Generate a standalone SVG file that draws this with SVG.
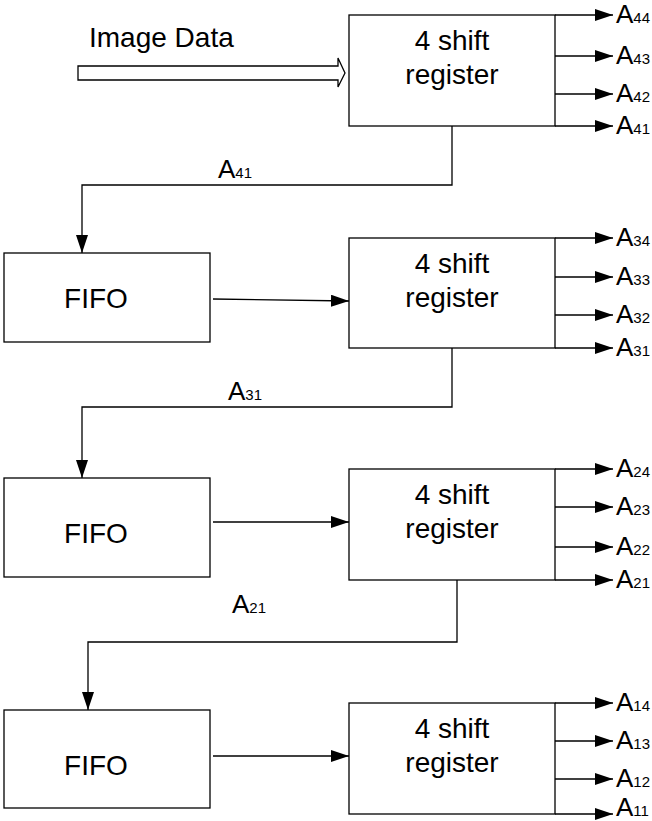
<svg xmlns="http://www.w3.org/2000/svg" width="652" height="821" viewBox="0 0 652 821">
  <style>
    .box { fill: #fff; stroke: #000; stroke-width: 1.3; }
    .wire { fill: none; stroke: #000; stroke-width: 1.3; }
    .lbl { font-family: "Liberation Sans", Arial, sans-serif; fill: #000; }
    .big { font-size: 28px; }
    .out { font-size: 26px; }
    .sub { font-size: 15px; }
  </style>
  <defs>
    <marker id="head" viewBox="0 0 18 12" refX="18" refY="6" markerWidth="18" markerHeight="12" markerUnits="userSpaceOnUse" orient="auto">
      <path d="M0,0 L18,6 L0,12 Z" fill="#000"/>
    </marker>
  </defs>
  <rect width="652" height="821" fill="#fff"/>

  <!-- input -->
  <g id="image-data">
    <text class="lbl big" x="89" y="47">Image Data</text>
    <path class="box" d="M78,66 H338 V58 L345,73 L338,87 V80 H78 Z"/>
  </g>

  <!-- shift registers -->
  <g id="reg4">
    <rect class="box" x="349" y="15" width="206" height="111"/>
    <text class="lbl big" x="452" y="50" text-anchor="middle">4 shift</text>
    <text class="lbl big" x="452" y="84" text-anchor="middle">register</text>
  </g>
  <g id="reg3">
    <rect class="box" x="349" y="238" width="206" height="110"/>
    <text class="lbl big" x="452" y="273" text-anchor="middle">4 shift</text>
    <text class="lbl big" x="452" y="307" text-anchor="middle">register</text>
  </g>
  <g id="reg2">
    <rect class="box" x="349" y="469" width="206" height="111"/>
    <text class="lbl big" x="452" y="504" text-anchor="middle">4 shift</text>
    <text class="lbl big" x="452" y="538" text-anchor="middle">register</text>
  </g>
  <g id="reg1">
    <rect class="box" x="349" y="703" width="206" height="111"/>
    <text class="lbl big" x="452" y="738" text-anchor="middle">4 shift</text>
    <text class="lbl big" x="452" y="772" text-anchor="middle">register</text>
  </g>

  <!-- FIFOs -->
  <g id="fifo3">
    <rect class="box" x="4" y="253" width="206" height="89"/>
    <text class="lbl big" x="96" y="308" text-anchor="middle">FIFO</text>
  </g>
  <g id="fifo2">
    <rect class="box" x="4" y="478" width="206" height="99"/>
    <text class="lbl big" x="96" y="543" text-anchor="middle">FIFO</text>
  </g>
  <g id="fifo1">
    <rect class="box" x="4" y="710" width="206" height="98"/>
    <text class="lbl big" x="96" y="775" text-anchor="middle">FIFO</text>
  </g>

  <!-- connectors -->
  <g id="connectors">
    <!-- register outputs -->
    <line class="wire" x1="555" y1="15" x2="613" y2="15" marker-end="url(#head)"/>
    <line class="wire" x1="555" y1="56" x2="613" y2="56" marker-end="url(#head)"/>
    <line class="wire" x1="555" y1="94" x2="613" y2="94" marker-end="url(#head)"/>
    <line class="wire" x1="555" y1="126" x2="613" y2="126" marker-end="url(#head)"/>

    <line class="wire" x1="555" y1="238" x2="613" y2="238" marker-end="url(#head)"/>
    <line class="wire" x1="555" y1="277" x2="613" y2="277" marker-end="url(#head)"/>
    <line class="wire" x1="555" y1="315" x2="613" y2="315" marker-end="url(#head)"/>
    <line class="wire" x1="555" y1="348" x2="613" y2="348" marker-end="url(#head)"/>

    <line class="wire" x1="555" y1="469" x2="613" y2="469" marker-end="url(#head)"/>
    <line class="wire" x1="555" y1="507" x2="613" y2="507" marker-end="url(#head)"/>
    <line class="wire" x1="555" y1="547" x2="613" y2="547" marker-end="url(#head)"/>
    <line class="wire" x1="555" y1="580" x2="613" y2="580" marker-end="url(#head)"/>

    <line class="wire" x1="555" y1="703" x2="613" y2="703" marker-end="url(#head)"/>
    <line class="wire" x1="555" y1="741" x2="613" y2="741" marker-end="url(#head)"/>
    <line class="wire" x1="555" y1="779" x2="613" y2="779" marker-end="url(#head)"/>
    <line class="wire" x1="555" y1="814" x2="613" y2="814" marker-end="url(#head)"/>

    <!-- feedback to FIFOs -->
    <path class="wire" d="M452,126 V185 H82 V253" marker-end="url(#head)"/>
    <path class="wire" d="M452,348 V407 H82 V478" marker-end="url(#head)"/>
    <path class="wire" d="M457,580 V642 H88 V710" marker-end="url(#head)"/>

    <!-- FIFO to register -->
    <path class="wire" d="M213,299 L349,301" marker-end="url(#head)"/>
    <path class="wire" d="M213,522 L349,522" marker-end="url(#head)"/>
    <path class="wire" d="M213,756 L349,756" marker-end="url(#head)"/>
  </g>

  <!-- signal labels -->
  <g id="labels">
    <text class="lbl out" x="616" y="23">A<tspan class="sub">44</tspan></text>
    <text class="lbl out" x="616" y="64">A<tspan class="sub">43</tspan></text>
    <text class="lbl out" x="616" y="102">A<tspan class="sub">42</tspan></text>
    <text class="lbl out" x="616" y="134">A<tspan class="sub">41</tspan></text>

    <text class="lbl out" x="616" y="246">A<tspan class="sub">34</tspan></text>
    <text class="lbl out" x="616" y="285">A<tspan class="sub">33</tspan></text>
    <text class="lbl out" x="616" y="323">A<tspan class="sub">32</tspan></text>
    <text class="lbl out" x="616" y="356">A<tspan class="sub">31</tspan></text>

    <text class="lbl out" x="616" y="477">A<tspan class="sub">24</tspan></text>
    <text class="lbl out" x="616" y="515">A<tspan class="sub">23</tspan></text>
    <text class="lbl out" x="616" y="555">A<tspan class="sub">22</tspan></text>
    <text class="lbl out" x="616" y="588">A<tspan class="sub">21</tspan></text>

    <text class="lbl out" x="616" y="711">A<tspan class="sub">14</tspan></text>
    <text class="lbl out" x="616" y="749">A<tspan class="sub">13</tspan></text>
    <text class="lbl out" x="616" y="787">A<tspan class="sub">12</tspan></text>
    <text class="lbl out" x="616" y="816">A<tspan class="sub">11</tspan></text>

    <text class="lbl out" x="218" y="178">A<tspan class="sub">41</tspan></text>
    <text class="lbl out" x="228" y="400">A<tspan class="sub">31</tspan></text>
    <text class="lbl out" x="232" y="613">A<tspan class="sub">21</tspan></text>
  </g>
</svg>
